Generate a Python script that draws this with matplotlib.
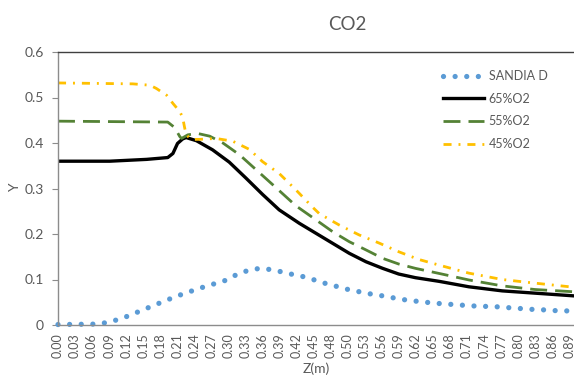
import numpy as np
import matplotlib
matplotlib.use("Agg")
import matplotlib.pyplot as plt

plt.rcParams['font.family'] = ['Lato', 'DejaVu Sans']

# x tick labels (Z in m), evenly spaced from 0 to 0.89
z_labels = ["0.00", "0.03", "0.06", "0.09", "0.12", "0.15", "0.18", "0.21",
            "0.24", "0.27", "0.30", "0.33", "0.36", "0.39", "0.42", "0.45",
            "0.48", "0.50", "0.53", "0.56", "0.59", "0.62", "0.65", "0.68",
            "0.71", "0.74", "0.77", "0.80", "0.83", "0.86", "0.89"]

# SANDIA D (experiment)
sandia_z = [0.000, 0.068, 0.088, 0.107, 0.127, 0.145, 0.163, 0.182, 0.200,
            0.219, 0.238, 0.257, 0.276, 0.294, 0.311, 0.331, 0.351, 0.372,
            0.392, 0.412, 0.432, 0.451, 0.469, 0.489, 0.508, 0.529, 0.550,
            0.571, 0.590, 0.611, 0.633, 0.655, 0.677, 0.699, 0.720, 0.742,
            0.764, 0.785, 0.807, 0.829, 0.851, 0.872, 0.890]
sandia_y = [0.001, 0.002, 0.006, 0.013, 0.022, 0.032, 0.041, 0.051, 0.060,
            0.069, 0.077, 0.085, 0.092, 0.099, 0.111, 0.120, 0.1245, 0.1216,
            0.116, 0.110, 0.105, 0.097, 0.090, 0.0835, 0.077, 0.072, 0.0667,
            0.063, 0.058, 0.054, 0.051, 0.048, 0.046, 0.044, 0.042, 0.041,
            0.040, 0.038, 0.036, 0.034, 0.033, 0.031, 0.031]

# 65%O2
o65_z = [0.000, 0.090, 0.154, 0.191, 0.200, 0.208, 0.217, 0.223, 0.241,
         0.269, 0.298, 0.327, 0.356, 0.385, 0.420, 0.449, 0.478, 0.507,
         0.536, 0.565, 0.593, 0.622, 0.663, 0.715, 0.773, 0.830, 0.898]
o65_y = [0.360, 0.360, 0.364, 0.368, 0.377, 0.399, 0.409, 0.412, 0.405,
         0.385, 0.358, 0.323, 0.287, 0.253, 0.2235, 0.2015, 0.1795, 0.1575,
         0.139, 0.1245, 0.112, 0.104, 0.096, 0.084, 0.075, 0.070, 0.064]

# 55%O2
o55_z = [0.000, 0.191, 0.203, 0.212, 0.215, 0.226, 0.243, 0.264, 0.287,
         0.316, 0.345, 0.374, 0.414, 0.449, 0.478, 0.507, 0.536, 0.565,
         0.593, 0.622, 0.668, 0.715, 0.773, 0.830, 0.898]
o55_y = [0.448, 0.446, 0.434, 0.414, 0.410, 0.418, 0.421, 0.415, 0.400,
         0.374, 0.341, 0.308, 0.262, 0.231, 0.205, 0.183, 0.165, 0.1465,
         0.134, 0.1245, 0.112, 0.099, 0.086, 0.078, 0.073]

# 45%O2
o45_z = [0.000, 0.130, 0.160, 0.171, 0.189, 0.200, 0.212, 0.217, 0.220,
         0.223, 0.232, 0.246, 0.275, 0.304, 0.333, 0.356, 0.385, 0.414,
         0.443, 0.4545, 0.489, 0.524, 0.559, 0.593, 0.628, 0.668, 0.715,
         0.773, 0.830, 0.898]
o45_y = [0.532, 0.530, 0.527, 0.520, 0.505, 0.487, 0.469, 0.456, 0.436,
         0.418, 0.408, 0.408, 0.410, 0.404, 0.386, 0.359, 0.333, 0.297,
         0.259, 0.245, 0.220, 0.198, 0.180, 0.161, 0.144, 0.130, 0.114,
         0.100, 0.092, 0.083]

grey_txt = '#595959'
axis_col = '#8c8c8c'

fig = plt.figure(figsize=(5.74, 3.76), dpi=100)
ax = fig.add_axes([58 / 574, 51 / 376, 516 / 574, 273 / 376])

ax.plot(sandia_z, sandia_y, color='#5B9BD5', lw=3.8,
        ls=(0, (0.001, 2.2)), dash_capstyle='round', label='SANDIA D',
        clip_on=False)
ax.plot(o65_z, o65_y, color='black', lw=2.4, label='65%O2')
ax.plot(o55_z, o55_y, color='#548235', lw=2.0,
        ls=(0, (6.1, 2.9)), dash_capstyle='butt', label='55%O2')
ax.plot(o45_z, o45_y, color='#FFC000', lw=2.0,
        ls=(0, (2.9, 2.5, 0.7, 2.5)), dash_capstyle='butt', label='45%O2')

ax.set_xlim(0, 0.898)
ax.set_ylim(0, 0.6)
ax.set_xticks(np.linspace(0, 0.89, len(z_labels)))
ax.set_xticklabels(z_labels, rotation=90)
ax.set_yticks([0, 0.1, 0.2, 0.3, 0.4, 0.5, 0.6])
ax.set_yticklabels(['0', '0.1', '0.2', '0.3', '0.4', '0.5', '0.6'])
ax.tick_params(axis='x', length=0, pad=6, labelsize=9, labelcolor=grey_txt)
ax.tick_params(axis='y', length=4, width=0.8, color=axis_col, pad=6,
               labelsize=10, labelcolor=grey_txt)

ax.spines['right'].set_visible(False)
ax.spines['left'].set_color(axis_col)
ax.spines['bottom'].set_color(axis_col)
ax.spines['top'].set_color('#404040')
for s in ax.spines.values():
    s.set_linewidth(1.0)

fig.text(347 / 574, 1 - 24 / 376, 'CO2', ha='center', va='center',
         fontsize=13.5, color=grey_txt)
fig.text(15 / 574, 0.5, 'Y', ha='center', va='center', rotation=90,
         fontsize=10, color=grey_txt)
fig.text(316 / 574, 1 - 362 / 376, 'Z(m)', ha='center', va='top',
         fontsize=10, color=grey_txt)

leg = ax.legend(loc='upper left', bbox_to_anchor=(443 / 574, 1 - 70 / 376),
                bbox_transform=fig.transFigure, frameon=False, fontsize=9,
                handlelength=3.3, handletextpad=0.35, labelspacing=0.85,
                borderpad=0, borderaxespad=0)
for t in leg.get_texts():
    t.set_color(grey_txt)

fig.savefig('out.png', dpi=100)
